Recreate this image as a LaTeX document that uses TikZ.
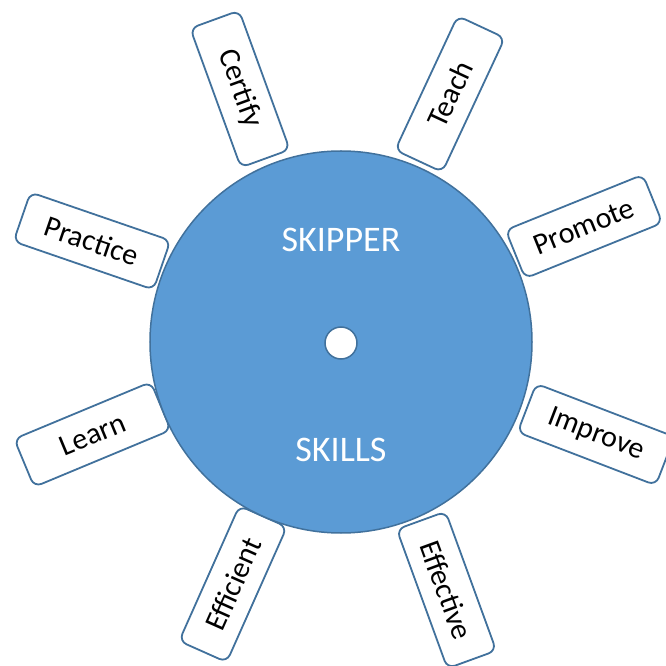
\documentclass[tikz,border=0pt]{standalone}
\usepackage{fontspec}
\setmainfont{Carlito}
\definecolor{wheelblue}{HTML}{5B9BD5}
\definecolor{rimblue}{HTML}{41719C}
\begin{document}
\begin{tikzpicture}[x=1pt,y=1pt,
  skillbox/.style={draw=rimblue,line width=1.8pt,fill=white,rounded corners=8pt,
    minimum width=148pt,minimum height=52pt,inner sep=0pt,
    font=\fontsize{30}{36}\selectfont},
  hublabel/.style={text=white,font=\fontsize{36}{42}\selectfont}]
  \useasboundingbox (-341,-324) rectangle (324,342);

  \node[skillbox,rotate=65] (teach) at (109,248) {Teach};
  \node[skillbox,rotate=22] (promote) at (243,115.5) {Promote};
  \node[skillbox,rotate=-21] (improve) at (255,-92.5) {Improve};
  \node[skillbox,rotate=-70] (effective) at (105.5,-248) {Effective};
  \node[skillbox,rotate=66] (efficient) at (-108,-242) {Efficient};
  \node[skillbox,rotate=22.6] (learn) at (-248.5,-92.5) {Learn};
  \node[skillbox,rotate=-19] (practice) at (-249,101) {Practice};
  \node[skillbox,rotate=-70] (certify) at (-101,253) {Certify};

  \draw[rimblue,line width=1.5pt,fill=wheelblue] (0,0) circle (191);
  \draw[rimblue,line width=1.5pt,fill=white] (0,-1) circle (16);

  \node[hublabel] (skipper) at (0,102) {SKIPPER};
  \node[hublabel] (skills) at (0,-108) {SKILLS};
\end{tikzpicture}
\end{document}
